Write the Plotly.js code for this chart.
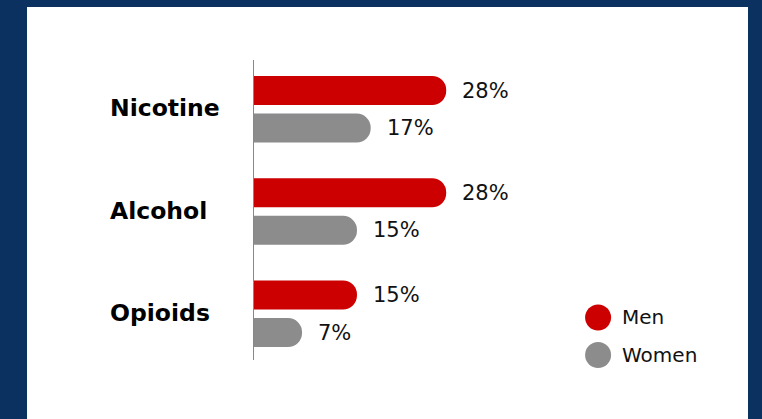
<!DOCTYPE html>
<html><head><meta charset="utf-8">
<script src="https://cdn.plot.ly/plotly-3.0.1.min.js"></script>
<style>
html,body{margin:0;padding:0;background:#0b3160;width:762px;height:419px;overflow:hidden;}
#chart{position:absolute;left:27px;top:7px;width:721px;height:412px;background:#fff;}
</style></head>
<body><div id="chart"></div>
<script>
const categories = ["Nicotine", "Alcohol", "Opioids"];
const seriesNames = ["Men", "Women"];
const menValues = [28, 28, 15];
const womenValues = [17, 15, 7];
const colors = ["#cc0000", "#8c8c8c"];

const FONT = "'DejaVu Sans', 'Liberation Sans', Arial, sans-serif";

const traces = [
  {type:"bar", orientation:"h", name:seriesNames[0], y:categories, x:menValues,
   marker:{color:colors[0], cornerradius:15}, hoverinfo:"skip"},
  {type:"bar", orientation:"h", name:seriesNames[1], y:categories, x:womenValues,
   marker:{color:colors[1], cornerradius:15}, hoverinfo:"skip"}
];

const annotations = [];
categories.forEach((c) => {
  annotations.push({xref:"paper", yref:"y", x:-0.3004, y:c, text:c, showarrow:false,
    xanchor:"left", yanchor:"middle", yshift:1,
    font:{family:FONT, size:23.5, color:"#000", weight:700}});
});
[menValues, womenValues].forEach((vals, si) => {
  vals.forEach((v, i) => {
    annotations.push({x:v, y:categories[i], xref:"x", yref:"y", text:v + "%",
      showarrow:false, xanchor:"left", yanchor:"middle", xshift:14,
      yshift: si === 0 ? 18.75 : -18.75,
      font:{family:FONT, size:21, color:"#111"}});
  });
});
const legY = [0.1417, 0.0167];
const shapes = [];
seriesNames.forEach((n, i) => {
  shapes.push({type:"circle", xref:"paper", yref:"paper", xsizemode:"pixel", ysizemode:"pixel",
    xanchor:0.708, yanchor:legY[i], x0:-13, x1:13, y0:-13, y1:13,
    fillcolor:colors[i], line:{width:0}});
  annotations.push({xref:"paper", yref:"paper", x:0.754, y:legY[i], text:n, showarrow:false,
    xanchor:"left", yanchor:"middle", font:{family:FONT, size:20, color:"#111"}});
});

const layout = {
  width:721, height:412,
  margin:{l:227, r:8, t:53, b:59},
  paper_bgcolor:"#ffffff", plot_bgcolor:"#ffffff",
  barmode:"group", bargap:0.265, bargroupgap:0.227,
  showlegend:false,
  xaxis:{range:[0, 70.8], showgrid:false, zeroline:false, showticklabels:false, showline:false, fixedrange:true},
  yaxis:{type:"category", range:[2.452, -0.482], showgrid:false, zeroline:false,
    showline:true, linecolor:"#888888", linewidth:1.5, ticks:"", showticklabels:false, fixedrange:true},
  annotations:annotations, shapes:shapes
};
Plotly.newPlot("chart", traces, layout, {displayModeBar:false, staticPlot:true});
</script></body></html>
